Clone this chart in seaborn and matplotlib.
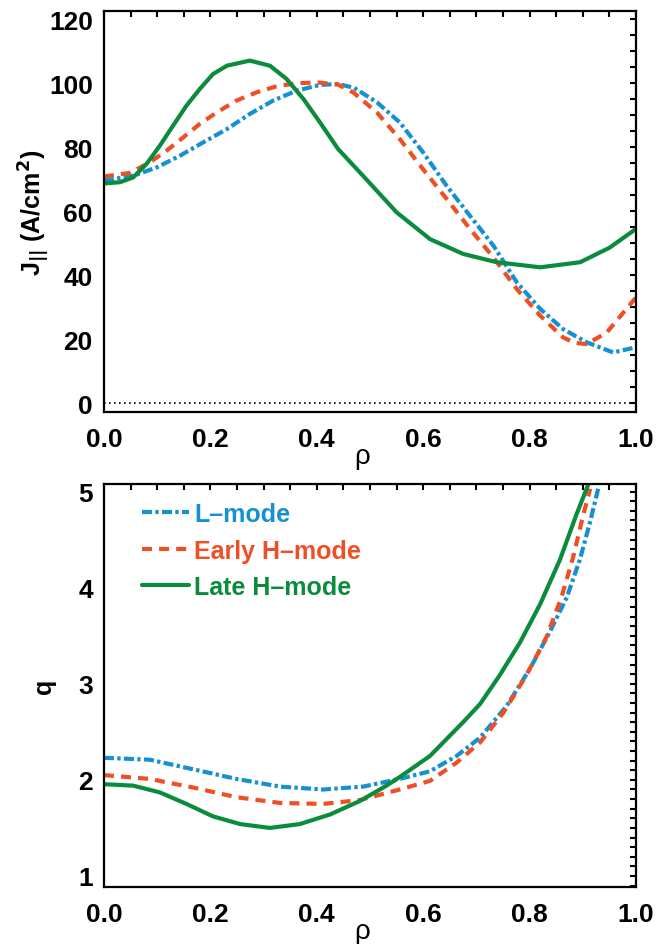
import seaborn as sns
import matplotlib.pyplot as plt
from matplotlib.ticker import MultipleLocator

# Dữ liệu J|| (A/cm^2)
rho_j_late = [0, 0.03, 0.055, 0.08, 0.105, 0.13, 0.155, 0.18, 0.205, 0.231, 0.274, 0.312,
              0.343, 0.375, 0.406, 0.44, 0.487, 0.55, 0.613, 0.675, 0.738, 0.82, 0.895,
              0.95, 1.0]
j_late = [68.6, 69, 70.5, 74.7, 80.4, 86.7, 92.9, 98.1, 102.8, 105.4, 107, 105.4,
          101.3, 95, 87.7, 79.4, 71, 59.6, 51.2, 46.6, 44, 42.4, 44,
          48.5, 54.4]

rho_j_early = [0, 0.049, 0.086, 0.118, 0.149, 0.18, 0.212, 0.249, 0.287, 0.325, 0.362, 0.4,
               0.44, 0.469, 0.513, 0.556, 0.6, 0.644, 0.688, 0.732, 0.776, 0.82, 0.863,
               0.885, 0.907, 0.945, 1.0]
j_early = [70.8, 71.9, 75.2, 78.9, 83, 87.2, 90.8, 94.5, 97.1, 99, 99.9, 100.2,
           99.5, 97, 90.8, 82.5, 73, 63.8, 54.4, 45.5, 35.6, 27.3, 20.5,
           18.8, 18.4, 22, 33]

rho_j_l = [0, 0.055, 0.099, 0.143, 0.187, 0.231, 0.274, 0.318, 0.362, 0.406, 0.44, 0.47,
           0.513, 0.556, 0.6, 0.644, 0.688, 0.732, 0.776, 0.82, 0.863, 0.907, 0.957, 1.0]
j_l = [69.5, 71, 73.6, 77.3, 81.5, 85.6, 90.3, 94.5, 97.6, 99.4, 99.7, 98.5,
       94, 87.7, 78.3, 67.9, 58.5, 49.2, 37.7, 29.4, 23.1, 19, 15.8, 17.4]

# Dữ liệu q
rho_q_late = [0, 0.055, 0.105, 0.155, 0.205, 0.256, 0.312, 0.368, 0.425, 0.481, 0.531,
              0.556, 0.613, 0.675, 0.707, 0.744, 0.782, 0.82, 0.857, 0.888, 0.91]
q_late = [1.955, 1.94, 1.87, 1.75, 1.62, 1.54, 1.50, 1.54, 1.64, 1.78, 1.94,
          2.03, 2.25, 2.60, 2.79, 3.09, 3.43, 3.83, 4.29, 4.76, 5.07]

rho_q_early = [0, 0.086, 0.168, 0.249, 0.331, 0.412, 0.481, 0.556, 0.613, 0.663, 0.707,
               0.751, 0.794, 0.832, 0.86, 0.882, 0.901, 0.914]
q_early = [2.05, 2.01, 1.92, 1.82, 1.76, 1.75, 1.79, 1.90, 1.99, 2.18, 2.39,
           2.70, 3.09, 3.49, 3.90, 4.32, 4.76, 5.03]

rho_q_l = [0, 0.086, 0.168, 0.249, 0.331, 0.412, 0.487, 0.556, 0.613, 0.663, 0.707,
           0.757, 0.801, 0.838, 0.87, 0.895, 0.914, 0.929]
q_l = [2.23, 2.21, 2.11, 2.01, 1.93, 1.90, 1.93, 2.01, 2.09, 2.25, 2.44,
       2.77, 3.16, 3.54, 3.90, 4.30, 4.69, 5.03]

labels = ['L\u2013mode', 'Early H\u2013mode', 'Late H\u2013mode']
colors = ['#1591d2', '#ee4f24', '#0b8c3c']
styles = [(0, (2.4, 0.8, 0.8, 0.8)), (0, (2.4, 1.7)), '-']

sns.set_style('white')
plt.rcParams['font.family'] = ['Liberation Sans', 'DejaVu Sans']
plt.rcParams['font.weight'] = 'bold'
plt.rcParams['mathtext.default'] = 'bf'
for k in ['text.color', 'axes.labelcolor', 'xtick.color', 'ytick.color']:
    plt.rcParams[k] = 'black'

fig = plt.figure(figsize=(6.58, 9.45), dpi=100)
ax1 = fig.add_axes([0.158, 0.563, 0.8085, 0.4243])
ax2 = fig.add_axes([0.158, 0.0603, 0.8085, 0.4265])

top_data = [(rho_j_l, j_l), (rho_j_early, j_early), (rho_j_late, j_late)]
bot_data = [(rho_q_l, q_l), (rho_q_early, q_early), (rho_q_late, q_late)]

for (x, y), lab, c, ls in zip(top_data, labels, colors, styles):
    sns.lineplot(x=x, y=y, ax=ax1, color=c, linestyle=ls, lw=3, sort=False)
for (x, y), lab, c, ls in zip(bot_data, labels, colors, styles):
    sns.lineplot(x=x, y=y, ax=ax2, color=c, linestyle=ls, lw=3, sort=False, label=lab)

ax1.axhline(0, color='black', lw=1.2, ls=(0, (1, 2)))

ax1.set_xlim(0, 1)
ax1.set_ylim(-2.8, 122.5)
ax2.set_xlim(0, 1)
ax2.set_ylim(0.885, 5.08)

ax1.yaxis.set_major_locator(MultipleLocator(20))
ax1.yaxis.set_minor_locator(MultipleLocator(5))
ax2.yaxis.set_major_locator(MultipleLocator(1))
ax2.yaxis.set_minor_locator(MultipleLocator(0.1))

for ax in (ax1, ax2):
    ax.xaxis.set_major_locator(MultipleLocator(0.2))
    ax.xaxis.set_minor_locator(MultipleLocator(0.05))
    ax.xaxis.set_major_formatter(plt.FormatStrFormatter('%.1f'))
    ax.tick_params(which='both', direction='in', top=True, right=True,
                   length=4.5, width=1.5, labelsize=19, pad=8, colors='black')
    ax.tick_params(axis='x', pad=11)
    for s in ax.spines.values():
        s.set_linewidth(1.6)
        s.set_color('black')
    ax.set_xlabel('\u03c1', fontsize=20, fontweight='normal')
    ax.xaxis.set_label_coords(0.485, -0.078)

ax1.set_ylabel('J$_{||}$ (A/cm$^2$)', fontsize=18, fontweight='bold')
ax1.yaxis.set_label_coords(-0.097, 0.5)
ax2.set_ylabel('q', fontsize=18, fontweight='bold')
ax2.yaxis.set_label_coords(-0.09, 0.5)

ax2.legend(loc='upper left', bbox_to_anchor=(0.071, 0.955), frameon=False,
           fontsize=18, handlelength=1.9, handletextpad=0.2, borderpad=0,
           borderaxespad=0, labelspacing=0.5, labelcolor='linecolor')

plt.savefig('out.png', dpi=100)
